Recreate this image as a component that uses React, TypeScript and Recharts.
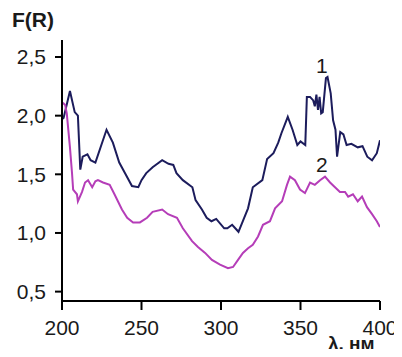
import { LineChart, Line, XAxis, YAxis, ReferenceDot } from 'recharts';

// curve 1 (dark blue)
const wavelength1 = [
  200, 201, 205, 208, 210, 211.5, 213, 216, 218, 221, 228, 232, 236, 240, 244, 248, 250,
  253, 257, 263, 267, 270, 272, 276, 282, 284, 288, 291, 294, 297, 302, 304, 307, 311,
  314, 317, 320, 326, 329, 333, 336, 338, 342, 345, 348, 350, 353, 354, 356, 358, 359, 360,
  361, 362, 363, 364, 366, 367, 369, 370.5, 372, 373, 375, 377, 379, 382, 386, 389, 392, 395, 398, 400,
];
const fr1 = [
  1.97, 1.98, 2.21, 2.03, 2.0, 1.54, 1.65, 1.67, 1.62, 1.6, 1.88, 1.77, 1.6, 1.5, 1.4, 1.39, 1.45,
  1.51, 1.56, 1.62, 1.59, 1.58, 1.51, 1.45, 1.39, 1.28, 1.2, 1.13, 1.1, 1.12, 1.04, 1.04, 1.07, 1.01,
  1.11, 1.21, 1.39, 1.45, 1.63, 1.68, 1.77, 1.85, 1.99, 1.88, 1.75, 1.78, 1.75, 2.16, 2.16, 2.13, 2.08, 2.18,
  2.05, 2.16, 2.02, 2.03, 2.32, 2.33, 2.19, 1.96, 1.88, 1.65, 1.86, 1.84, 1.75, 1.76, 1.73, 1.74, 1.65, 1.62, 1.68, 1.79,
];

// curve 2 (magenta)
const wavelength2 = [
  200.5, 202, 203, 205, 206.3, 207, 209.4, 210, 212.6, 214.5, 216.4, 219, 221, 222.6, 225.8,
  230, 233, 237.7, 241, 244.7, 249, 253.5, 257, 263, 266.7, 272.3, 276, 281.8, 285.5, 290,
  294.3, 299.4, 304.4, 307.6, 310.7, 313.8, 317, 320, 323.3, 326.4, 330.8, 334, 338.4, 341.5,
  343.4, 346.5, 349.7, 352.8, 356, 359, 362.3, 365.4, 368.6, 371.7, 374.8, 378, 380, 383, 386,
  388.7, 391.8, 395, 398, 400,
];
const fr2 = [
  2.11, 2.09, 2.02, 1.73, 1.51, 1.37, 1.33, 1.27, 1.35, 1.43, 1.45, 1.39, 1.44, 1.45, 1.43,
  1.41, 1.33, 1.2, 1.13, 1.09, 1.09, 1.13, 1.18, 1.2, 1.16, 1.13, 1.04, 0.93, 0.88, 0.83,
  0.77, 0.73, 0.7, 0.71, 0.77, 0.83, 0.87, 0.9, 0.97, 1.07, 1.1, 1.21, 1.27, 1.41,
  1.48, 1.45, 1.37, 1.34, 1.43, 1.41, 1.45, 1.48, 1.43, 1.39, 1.35, 1.35, 1.31, 1.33, 1.27,
  1.31, 1.22, 1.16, 1.1, 1.05,
];

const xTicks = [200, 250, 300, 350, 400];
const yTicks = [0.5, 1, 1.5, 2, 2.5];

const series1 = wavelength1.map((x, i) => ({ x, y: fr1[i] }));
const series2 = wavelength2.map((x, i) => ({ x, y: fr2[i] }));

const font = '"Liberation Sans", Arial, sans-serif';
const tickStyle = { fontSize: 21, fill: '#1a1a1a', fontFamily: font };

const curveLabel = (text: string) => ({
  value: text,
  position: 'center' as const,
  fontSize: 21,
  fill: '#1a1a1a',
  fontFamily: font,
});

export default function App() {
  return (
    <div style={{ position: 'relative', width: 402, height: 357, margin: -8, background: '#fff' }}>
      <LineChart width={402} height={357} margin={{ top: 40, right: 22, bottom: 0, left: 12 }}>
        <XAxis
          type="number"
          dataKey="x"
          domain={[200, 400]}
          ticks={xTicks}
          height={56}
          tickSize={9}
          tickMargin={10}
          tick={tickStyle}
          axisLine={{ stroke: '#000', strokeWidth: 2 }}
          tickLine={{ stroke: '#000', strokeWidth: 2 }}
          allowDataOverflow
        />
        <YAxis
          type="number"
          dataKey="y"
          domain={[0.42, 2.645]}
          ticks={yTicks}
          width={50}
          tickSize={7}
          tickMargin={9}
          tick={tickStyle}
          tickFormatter={(v: number) => v.toFixed(1).replace('.', ',')}
          axisLine={{ stroke: '#000', strokeWidth: 2 }}
          tickLine={{ stroke: '#000', strokeWidth: 2 }}
          allowDataOverflow
        />
        <Line
          data={series1}
          dataKey="y"
          type="linear"
          stroke="#1c1c5c"
          strokeWidth={2}
          dot={false}
          isAnimationActive={false}
        />
        <Line
          data={series2}
          dataKey="y"
          type="linear"
          stroke="#b53db8"
          strokeWidth={2}
          dot={false}
          isAnimationActive={false}
        />
        <ReferenceDot x={363.5} y={2.43} r={0} fill="none" stroke="none" label={curveLabel('1')} />
        <ReferenceDot x={363.5} y={1.58} r={0} fill="none" stroke="none" label={curveLabel('2')} />
      </LineChart>
      <div
        style={{
          position: 'absolute', left: 12, top: 8, fontFamily: font, fontWeight: 'bold',
          fontSize: 21, color: '#1a1a1a', lineHeight: '24px',
        }}
      >
        F(R)
      </div>
      <div
        style={{
          position: 'absolute', left: 328, top: 341, fontFamily: font, fontWeight: 'bold',
          fontSize: 19, color: '#1a1a1a', lineHeight: '5px', height: 5, whiteSpace: 'nowrap',
        }}
      >
        λ, нм
      </div>
    </div>
  );
}
